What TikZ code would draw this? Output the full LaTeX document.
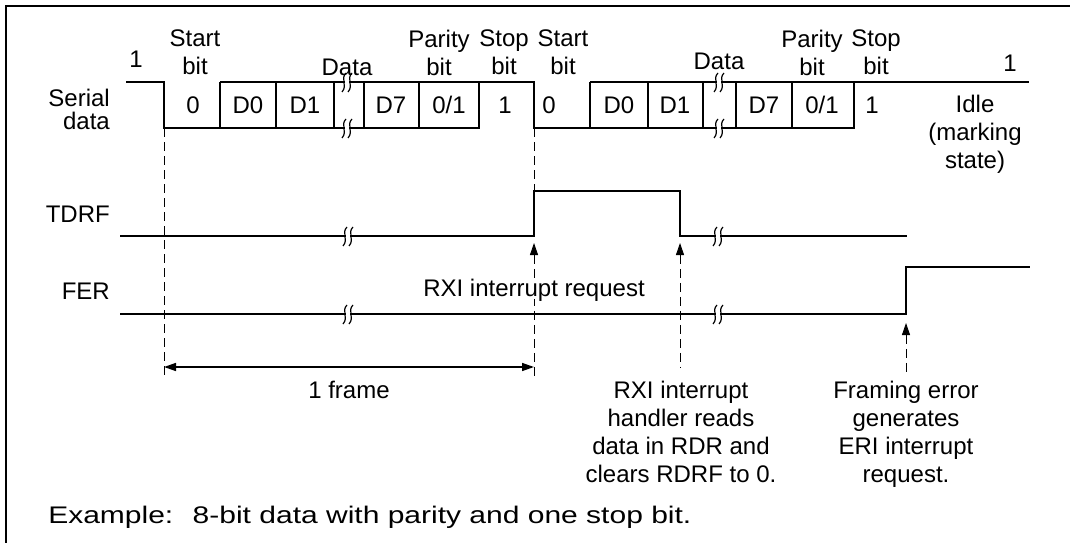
\documentclass[tikz,border=0pt]{standalone}
\usepackage{fontspec}
\setmainfont{Liberation Sans}
\usetikzlibrary{arrows.meta}
\newcommand{\brkmark}[2]{%
  \fill[white] ({#1-2.4},{#2-1.8}) rectangle ({#1+2.4},{#2+1.8});
  \draw[line width=1.2pt] ({#1-1},{#2-9}) .. controls ({#1-7},{#2-3}) and ({#1+1},{#2+3}) .. ({#1-5},{#2+10});
  \draw[line width=1.2pt] ({#1+5},{#2-9}) .. controls ({#1-1},{#2-3}) and ({#1+7},{#2+3}) .. ({#1+1},{#2+10});
}
\begin{document}
\begin{tikzpicture}[x=1pt,y=-1pt,
  sig/.style={line width=1.6pt},
  guide/.style={line width=0.9pt, dash pattern=on 9pt off 5pt},
  lbl/.style={font=\fontsize{24}{28}\selectfont, inner sep=0pt, text height=17pt, text depth=0pt},
  mlbl/.style={font=\fontsize{24}{28}\selectfont, inner sep=0pt, align=center, anchor=north},
  tipa/.style={{Triangle[length=12pt,width=8pt]}-},
]
\useasboundingbox (0,0) rectangle (1070,543);
\draw[line width=2.5pt] (6,543) -- (6,6) -- (1070,6);

% serial data waveform
\draw[sig] (126,82) -- (164,82) -- (164,128) -- (479,128) -- (479,82);
\draw[sig] (220,82) -- (534,82) -- (534,128) -- (854,128) -- (854,82) -- (1029,82);
\draw[sig] (590,82) -- (854,82);
\foreach \xx in {220,276,334,364,419,590,648,703,736,792}
  \draw[sig] (\xx,82) -- (\xx,128);
\brkmark{347}{82}
\brkmark{347}{128}
\brkmark{719}{82}
\brkmark{719}{128}

% TDRF
\draw[sig] (120,236) -- (534,236) -- (534,191) -- (680,191) -- (680,236) -- (907,236);
\brkmark{348}{236}
\brkmark{718}{236}

% FER
\draw[sig] (120,314) -- (906,314) -- (906,267) -- (1030,267);
\brkmark{348}{314}
\brkmark{718}{314}

% labels
\node[lbl, anchor=east, text height=15pt] (serial) at (110,99) {Serial};
\node[lbl, anchor=east, text height=15pt] (sdata) at (110,122) {data};
\node[lbl, anchor=east] (tdrf) at (110,214) {TDRF};
\node[lbl, anchor=east] (fer) at (110,291) {FER};

\node[lbl] (one1) at (136,58.5) {1};
\node[mlbl] (start1) at (195,29.5) {Start\\bit};
\node[lbl] (data1) at (347,67) {Data};
\node[mlbl] (par1) at (439,29.5) {Parity\\bit};
\node[mlbl] (stop1) at (504,29.5) {Stop\\bit};
\node[mlbl] (start2) at (563,29.5) {Start\\bit};
\node[lbl] (data2) at (719,61) {Data};
\node[mlbl] (par2) at (812,29.5) {Parity\\bit};
\node[mlbl] (stop2) at (876,29.5) {Stop\\bit};
\node[lbl] (one2) at (1010,63) {1};

\node[lbl] (c0a) at (193,105) {0};
\node[lbl] (cd0a) at (248,105) {D0};
\node[lbl] (cd1a) at (305,105) {D1};
\node[lbl] (cd7a) at (391,105) {D7};
\node[lbl] (cpa) at (449,105) {0/1};
\node[lbl] (csa) at (505,105) {1};
\node[lbl] (c0b) at (549,105) {0};
\node[lbl] (cd0b) at (619,105) {D0};
\node[lbl] (cd1b) at (675,105) {D1};
\node[lbl] (cd7b) at (764,105) {D7};
\node[lbl] (cpb) at (822,105) {0/1};
\node[lbl] (csb) at (872,105) {1};
\node[mlbl] (idle) at (975,94.5) {Idle\\(marking\\state)};

% guides and arrows
\coordinate (g1t) at (164,128);
\coordinate (g1b) at (164,377);
\coordinate (g2t) at (534,128);
\coordinate (g2m) at (534,191);
\coordinate (a1t) at (534,243);
\coordinate (a1b) at (534,377);
\coordinate (a2t) at (680,243);
\coordinate (a2b) at (680,368);
\coordinate (a3t) at (906,323);
\coordinate (a3b) at (906,372);
\draw[guide] (g1t) -- (g1b);
\draw[guide] (g2t) -- (g2m);
\draw[guide, tipa] (a1t) -- (a1b);
\draw[guide, tipa] (a2t) -- (a2b);
\draw[guide, tipa] (a3t) -- (a3b);

\node[lbl, fill=white, inner xsep=1pt, inner ysep=2pt] (rxi) at (534,288) {RXI interrupt request};

\coordinate (fl) at (164,367);
\coordinate (fr) at (534,367);
\draw[line width=1.5pt, {Triangle[length=12pt,width=8pt]}-{Triangle[length=12pt,width=8pt]}] (fl) -- (fr);
\node[lbl] (frame) at (349,389.6) {1 frame};

\node[mlbl] (rxitxt) at (681,381) {RXI interrupt\\handler reads\\data in RDR and\\clears RDRF to 0.};
\node[mlbl] (fetxt) at (906,381) {Framing error\\generates\\ERI interrupt\\request.};

\begin{scope}[shift={(48,515)}, xscale=1.25]
\node[lbl, anchor=west, transform shape] (ex) at (0,0) {Example:~ 8-bit data with parity and one stop bit.};
\end{scope}
\end{tikzpicture}
\end{document}
